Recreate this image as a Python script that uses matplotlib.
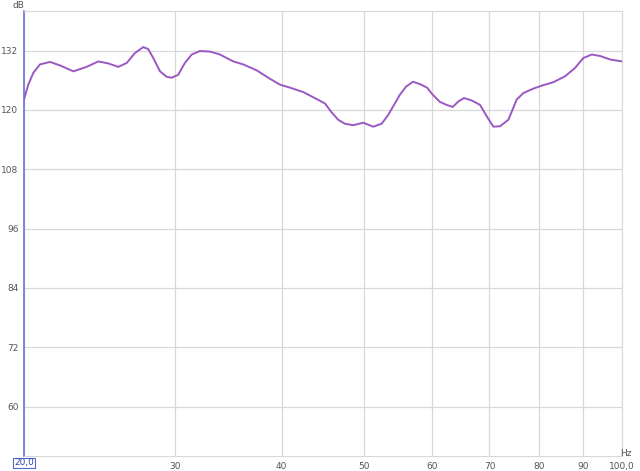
import matplotlib
matplotlib.use('Agg')
import matplotlib.pyplot as plt

# frequency response (Hz, dB)
freq = [20.0, 20.23, 20.51, 20.88, 21.45, 22.03, 22.84, 23.67, 24.43, 25.09,
        25.78, 26.37, 26.96, 27.57, 27.94, 28.32, 28.84, 29.36, 29.76, 30.29,
        30.84, 31.41, 32.11, 32.99, 33.89, 35.13, 36.08, 37.41, 38.77, 39.83,
        40.92, 42.41, 43.96, 44.96, 45.77, 46.59, 47.44, 48.51, 49.84, 51.2,
        52.37, 53.31, 55.02, 55.92, 56.98, 58.07, 59.17, 60.13, 61.28, 62.39,
        63.41, 64.37, 65.37, 66.74, 68.25, 69.49, 70.73, 72.02, 73.65, 75.33,
        76.68, 78.77, 80.57, 83.13, 85.8, 88.14, 90.13, 92.19, 94.27, 96.84,
        100.0]
spl = [122.1, 125.1, 127.5, 129.2, 129.7, 129.0, 127.8, 128.7, 129.8, 129.4,
       128.7, 129.5, 131.5, 132.7, 132.3, 130.5, 127.8, 126.7, 126.5, 127.1,
       129.5, 131.2, 131.9, 131.8, 131.2, 129.8, 129.2, 128.0, 126.3, 125.1,
       124.5, 123.6, 122.2, 121.3, 119.5, 118.0, 117.2, 116.9, 117.4, 116.6,
       117.2, 119.0, 123.1, 124.7, 125.7, 125.2, 124.5, 123.0, 121.6, 121.0,
       120.6, 121.7, 122.4, 121.9, 121.0, 118.7, 116.6, 116.7, 118.0, 122.1,
       123.4, 124.3, 124.9, 125.6, 126.8, 128.5, 130.5, 131.2, 130.9, 130.2,
       129.8]

x_ticks = [20, 30, 40, 50, 60, 70, 80, 90, 100]
x_labels = ['', '30', '40', '50', '60', '70', '80', '90', '100,0']
y_ticks = [60, 72, 84, 96, 108, 120, 132]

fig = plt.figure(figsize=(6.4, 4.71), dpi=100)
ax = fig.add_axes([24 / 640, 1 - 456 / 471, 598 / 640, 445 / 471])

ax.plot(freq, spl, color='#9a58c4', lw=1.4, solid_joinstyle='round')

ax.set_xscale('log')
ax.set_xlim(20, 100)
ax.set_ylim(50, 140)
ax.set_xticks(x_ticks)
ax.set_xticklabels(x_labels)
ax.minorticks_off()
ax.set_yticks(y_ticks)
ax.tick_params(length=0, labelsize=6.5, labelcolor='#555555', pad=4)
ax.grid(True, color='#d8d8d8', lw=0.9)

for s in ['top', 'right', 'bottom']:
    ax.spines[s].set_color('#d8d8d8')
ax.spines['left'].set_color('#7070dd')
ax.spines['left'].set_linewidth(1.2)

fig.text(18 / 640, 1 - 5 / 471, 'dB', fontsize=6.5, color='#555555', ha='center', va='center')
fig.text(626 / 640, 1 - 453 / 471, 'Hz', fontsize=6.5, color='#555555', ha='center', va='center')
fig.text(24 / 640, 1 - 463 / 471, '20,0', fontsize=6.5, color='#3344aa', ha='center', va='center',
         bbox=dict(boxstyle='square,pad=0.1', fc='white', ec='#5566cc', lw=0.8))

fig.savefig('out.png', dpi=100)
